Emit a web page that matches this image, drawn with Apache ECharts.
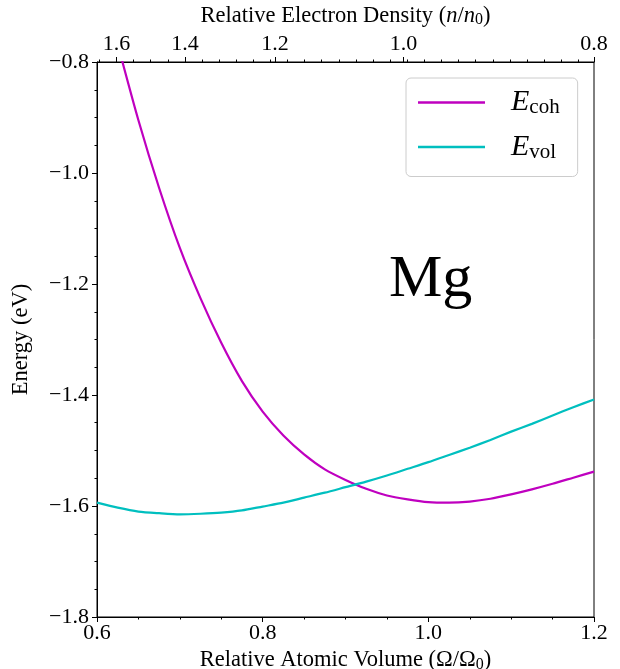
<!DOCTYPE html>
<html><head><meta charset="utf-8">
<script src="https://cdn.jsdelivr.net/npm/echarts@6/dist/echarts.min.js"></script>
<style>html,body{margin:0;padding:0;background:#fff}#c{width:620px;height:669px}</style>
</head><body><div id="c"></div><script>
// Relative atomic volume (Ω/Ω0)
const omega = [0.600,0.625,0.650,0.675,0.700,0.725,0.750,0.775,0.800,0.825,0.850,0.875,0.900,0.925,0.950,0.975,1.000,1.025,1.050,1.075,1.100,1.125,1.150,1.175,1.200];
// Cohesive energy (eV)
const eCoh = [null,-0.768,-0.905,-1.027,-1.135,-1.226,-1.306,-1.375,-1.430,-1.473,-1.507,-1.534,-1.553,-1.569,-1.581,-1.588,-1.593,-1.594,-1.592,-1.587,-1.579,-1.570,-1.560,-1.549,-1.538];
// Volume energy (eV)
const eVol = [-1.594,-1.603,-1.610,-1.613,-1.615,-1.614,-1.612,-1.608,-1.601,-1.594,-1.585,-1.576,-1.566,-1.556,-1.545,-1.533,-1.521,-1.508,-1.495,-1.481,-1.466,-1.452,-1.437,-1.422,-1.408];
// Top axis: relative electron density ticks (placed on the Ω/Ω0 scale)
const topTickPos = [0.6235,0.7061,0.815,0.970,1.2];
const topTickLabels = ['1.6','1.4','1.2','1.0','0.8'];
const seriesNames = ['E_coh','E_vol'];
const seriesColors = ['#bf00bf','#00bfbf'];

const FONT = '"Liberation Serif", "DejaVu Serif", serif';
const minorStep = (topTickPos[1]-topTickPos[0])/4;
const topMinor = [];
for (let k=-1; topTickPos[0]+k*minorStep <= 1.2+1e-9; k++) {
  const v = topTickPos[0]+k*minorStep;
  if (v >= 0.6-1e-9) topMinor.push(+v.toFixed(5));
}
const fmt = v => (v<0?'\u2212':'') + Math.abs(v).toFixed(1);
const nameRich = {
  r:{fontFamily:FONT,fontSize:22.5,color:'#000'},
  i:{fontFamily:FONT,fontSize:22.5,fontStyle:'italic',color:'#000'},
  s:{fontFamily:FONT,fontSize:16,color:'#000',padding:[9,0,0,0]}
};

const chart = echarts.init(document.getElementById('c'), null, {renderer:'canvas'});
chart.setOption({
  animation:false,
  backgroundColor:'#fff',
  grid:{left:97,right:26,top:62,bottom:52,outerBoundsMode:'none',containLabel:false,
        show:true,borderColor:'#000',borderWidth:1,backgroundColor:'transparent'},
  xAxis:[
    {type:'value',position:'bottom',min:0.6,max:1.2,interval:0.2,
     axisLine:{show:true,onZero:false,lineStyle:{color:'#000',width:1}},
     axisTick:{show:true,length:5,lineStyle:{color:'#000',width:1}},
     minorTick:{show:true,splitNumber:4,length:2.5,lineStyle:{color:'#000',width:1}},
     splitLine:{show:false},
     axisLabel:{formatter:fmt,color:'#000',fontFamily:FONT,fontSize:22,margin:5},
     name:'{r|Relative Atomic Volume (\u03a9/\u03a9}{s|0}{r|)}',nameLocation:'middle',nameGap:26,
     nameTextStyle:{color:'#000',fontFamily:FONT,fontSize:22.5,rich:nameRich}
    },
    {type:'value',position:'top',min:0.6,max:1.2,
     axisLine:{show:true,onZero:false,lineStyle:{color:'#000',width:1}},
     axisTick:{show:true,length:5,customValues:topTickPos,lineStyle:{color:'#000',width:1}},
     splitLine:{show:false},
     axisLabel:{customValues:topTickPos,formatter:v=>{const i=topTickPos.findIndex(p=>Math.abs(p-v)<1e-6);return i>=0?topTickLabels[i]:'';},
       color:'#000',fontFamily:FONT,fontSize:22,margin:7},
     name:'{r|Relative Electron Density (}{i|n}{r|/}{i|n}{s|0}{r|)}',nameLocation:'middle',nameGap:32,
     nameTextStyle:{color:'#000',fontFamily:FONT,fontSize:22.5,rich:nameRich}
    },
    {type:'value',position:'top',offset:0,min:0.6,max:1.2,
     axisLine:{show:false},
     axisTick:{show:true,length:2.5,customValues:topMinor,lineStyle:{color:'#000',width:1}},
     axisLabel:{show:false},splitLine:{show:false}
    }
  ],
  yAxis:[{type:'value',min:-1.8,max:-0.8,interval:0.2,
    axisLine:{show:true,onZero:false,lineStyle:{color:'#000',width:1}},
    axisTick:{show:true,length:5,lineStyle:{color:'#000',width:1}},
    minorTick:{show:true,splitNumber:4,length:2.5,lineStyle:{color:'#000',width:1}},
    splitLine:{show:false},
    axisLabel:{formatter:fmt,color:'#000',fontFamily:FONT,fontSize:22,margin:8},
    name:'Energy (eV)',nameLocation:'middle',nameGap:64,
    nameTextStyle:{color:'#000',fontFamily:FONT,fontSize:22.5}
  }],
  legend:{
    orient:'vertical',left:406,top:78,
    padding:[9,18,14,12],
    itemWidth:67,itemHeight:2.4,itemGap:13.5,
    borderColor:'#cccccc',borderWidth:1,borderRadius:5,
    backgroundColor:'rgba(255,255,255,0.8)',
    data:seriesNames.map(n=>({name:n,icon:'rect'})),
    formatter:n=>{const p=n.split('_');return '{e|'+p[0]+'}{s|'+p[1]+'}';},
    textStyle:{rich:{
      e:{fontFamily:FONT,fontSize:30,fontStyle:'italic',color:'#000',padding:[0,0,0,21],lineHeight:34},
      s:{fontFamily:FONT,fontSize:21,color:'#000',padding:[10,0,0,0],lineHeight:34}
    }}
  },
  graphic:[{type:'text',left:389,top:250,style:{text:'Mg',font:'60px '+FONT,fill:'#000'}}],
  series:[
    {name:seriesNames[0],type:'line',xAxisIndex:0,yAxisIndex:0,symbol:'none',smooth:0.25,clip:true,
     lineStyle:{color:seriesColors[0],width:2.2},itemStyle:{color:seriesColors[0]},
     data:omega.map((x,i)=>[x,eCoh[i]]).filter(d=>d[1]!==null)},
    {name:seriesNames[1],type:'line',xAxisIndex:0,yAxisIndex:0,symbol:'none',smooth:0.25,clip:true,
     lineStyle:{color:seriesColors[1],width:2.2},itemStyle:{color:seriesColors[1]},
     data:omega.map((x,i)=>[x,eVol[i]])}
  ]
});
</script></body></html>
